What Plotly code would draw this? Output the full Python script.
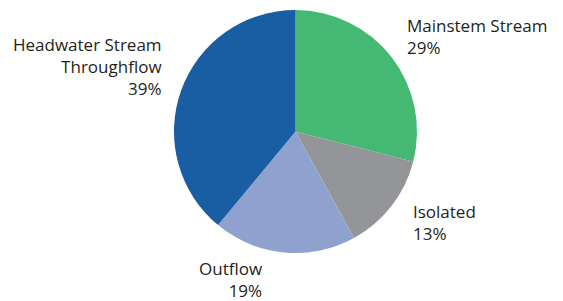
import plotly.graph_objects as go

labels = ["Mainstem Stream", "Isolated", "Outflow", "Headwater Stream Throughflow"]
values = [29, 13, 19, 39]
colors = ["#45B874", "#939598", "#8FA2CF", "#195DA3"]

label_texts = ["Mainstem Stream<br>29%", "Isolated<br>13%", "Outflow<br>19%",
               "Headwater Stream<br>Throughflow<br>39%"]

fig = go.Figure(go.Pie(
    labels=labels, values=values, sort=False, direction="clockwise", rotation=0,
    marker=dict(colors=colors, line=dict(width=0)),
    textinfo="none", hoverinfo="label+percent",
    domain=dict(x=[174/563, 417/563], y=[48/301, 291/301]),
))

font = dict(family="Open Sans, sans-serif", size=17, color="#231F20")
ann = [
    dict(x=405/563, y=1-12/301, xanchor="left", yanchor="top", align="left", text=label_texts[0]),
    dict(x=411/563, y=1-198/301, xanchor="left", yanchor="top", align="left", text=label_texts[1]),
    dict(x=264/563, y=1-255/301, xanchor="right", yanchor="top", align="right", text=label_texts[2]),
    dict(x=164/563, y=1-31/301, xanchor="right", yanchor="top", align="right", text=label_texts[3]),
]
for a in ann:
    fig.add_annotation(xref="paper", yref="paper", showarrow=False, font=font, **a)

fig.update_layout(width=563, height=301, margin=dict(l=0, r=0, t=0, b=0),
                  showlegend=False, paper_bgcolor="white", plot_bgcolor="white")
fig.write_html("out.html", config={"displayModeBar": False},
               post_script="document.body.style.margin='0';document.body.style.padding='0';")
